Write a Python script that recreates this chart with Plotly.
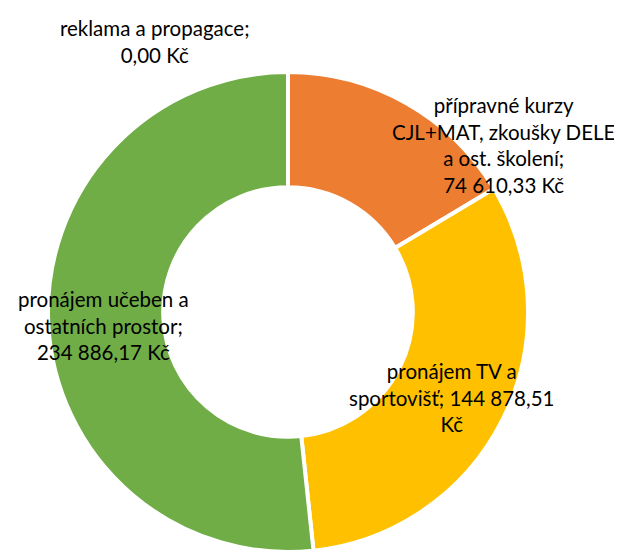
import plotly.graph_objects as go

# Data
categories = [
    "reklama a propagace",
    "přípravné kurzy CJL+MAT, zkoušky DELE a ost. školení",
    "pronájem TV a sportovišť",
    "pronájem učeben a ostatních prostor",
]
label_text = [
    "reklama a propagace;",
    "přípravné kurzy<br>CJL+MAT, zkoušky DELE<br>a ost. školení;",
    "pronájem TV a<br>sportovišť;",
    "pronájem učeben a<br>ostatních prostor;",
]
values = [0.00, 74610.33, 144878.51, 234886.17]
colors = ["#4472C4", "#ED7D31", "#FFC000", "#70AD47"]

OFF = 8  # page body margin
W, H = 622 - OFF, 552 - OFF


def czk(v):
    s = f"{v:,.2f}".replace(",", " ").replace(".", ",")
    return s + " Kč"


def px_x(x):
    return (x - OFF) / W


def px_y(y):
    return 1 - (y - OFF) / H


fig = go.Figure(
    go.Pie(
        labels=categories,
        values=values,
        hole=0.52,
        sort=False,
        direction="clockwise",
        rotation=0,
        marker=dict(colors=colors, line=dict(color="white", width=4)),
        textinfo="none",
        hoverinfo="label+value",
        domain=dict(x=[px_x(48), px_x(528)], y=[0, px_y(72)]),
        showlegend=False,
    )
)

# label anchor points (page pixel centres)
pos = [(155, 41), (503, 145), (451, 397), (104, 325)]
texts = [
    label_text[0] + "<br>" + czk(values[0]),
    label_text[1] + "<br>" + czk(values[1]),
    label_text[2] + " " + czk(values[2]).rsplit(" ", 1)[0] + "<br>Kč",
    label_text[3] + "<br>" + czk(values[3]),
]
for (px, py), t in zip(pos, texts):
    fig.add_annotation(
        x=px_x(px), y=px_y(py), xref="paper", yref="paper",
        text=t, showarrow=False, xanchor="center", yanchor="middle",
        align="center",
        font=dict(family="Lato", size=20.5, color="#000000"),
    )

fig.update_layout(
    width=W, height=H,
    margin=dict(l=0, r=0, t=0, b=0),
    paper_bgcolor="white", plot_bgcolor="white",
)

fig.write_html("out.html")
